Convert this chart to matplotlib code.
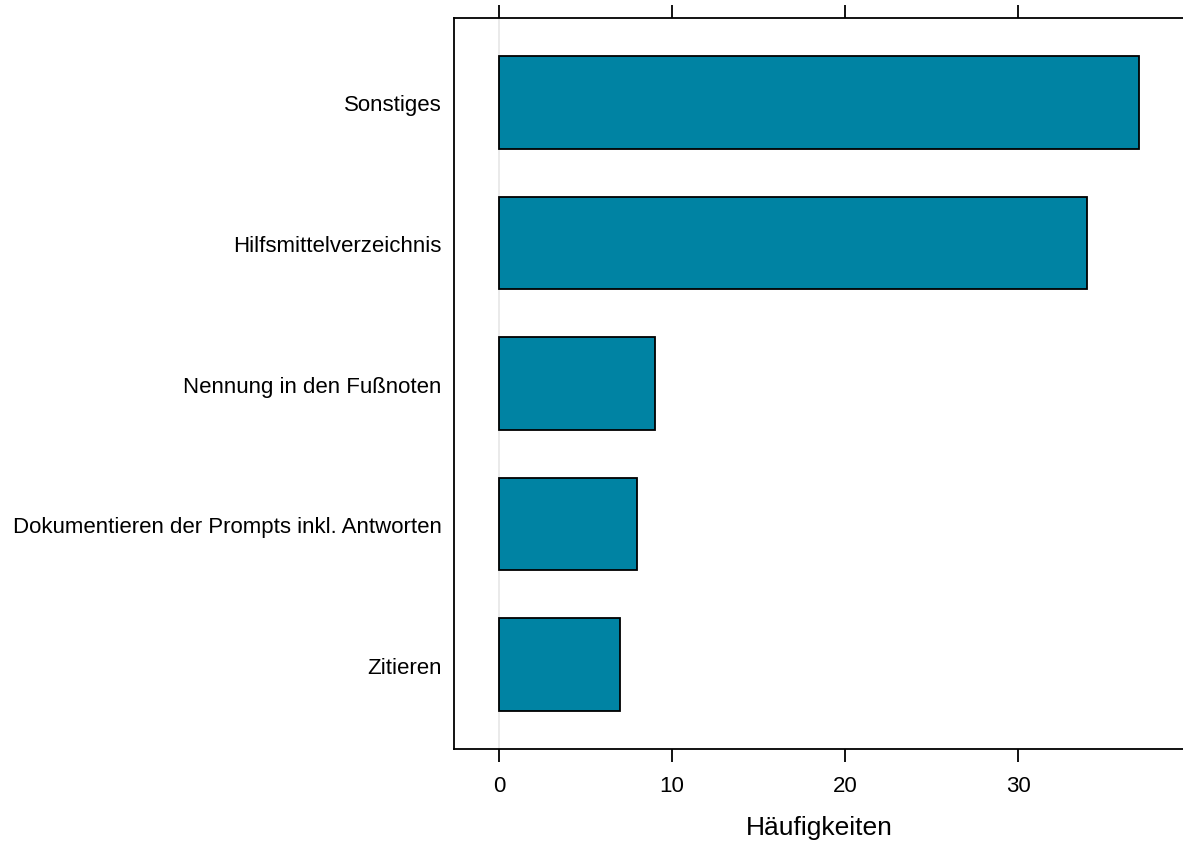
import matplotlib
matplotlib.use("Agg")
import matplotlib.pyplot as plt

# Daten
kategorien = ["Zitieren", "Dokumentieren der Prompts inkl. Antworten",
              "Nennung in den Fußnoten", "Hilfsmittelverzeichnis", "Sonstiges"]
haeufigkeiten = [7, 8, 9, 34, 37]
ticks = [0, 10, 20, 30]

plt.rcParams['font.family'] = ['Liberation Sans', 'DejaVu Sans']

fig = plt.figure(figsize=(11.83, 8.45), dpi=100)
ax = fig.add_axes([0.3838, 0.1124, 0.6170, 0.8651])

pos = list(range(1, len(kategorien) + 1))
ax.axvline(0, color="#e6e6e6", lw=1.2, zorder=0)
ax.barh(pos, haeufigkeiten, height=0.66, color="#0083a3",
        edgecolor="black", linewidth=1.3, zorder=2)

ax.set_xlim(-2.59, 39.59)
ax.set_ylim(0.4, 5.6)
ax.set_xticks(ticks)
ax.set_xticklabels([str(t) for t in ticks])
ax.set_yticks(pos)
ax.set_yticklabels(kategorien)

ax.tick_params(axis="x", direction="out", length=9.5, width=1.3,
               top=True, labeltop=False, labelsize=16, pad=9)
ax.tick_params(axis="y", length=0, labelsize=16, pad=9)
for s in ax.spines.values():
    s.set_linewidth(1.3)

ax.set_xlabel("Häufigkeiten", fontsize=19, labelpad=14)

fig.savefig("out.png", dpi=100)
